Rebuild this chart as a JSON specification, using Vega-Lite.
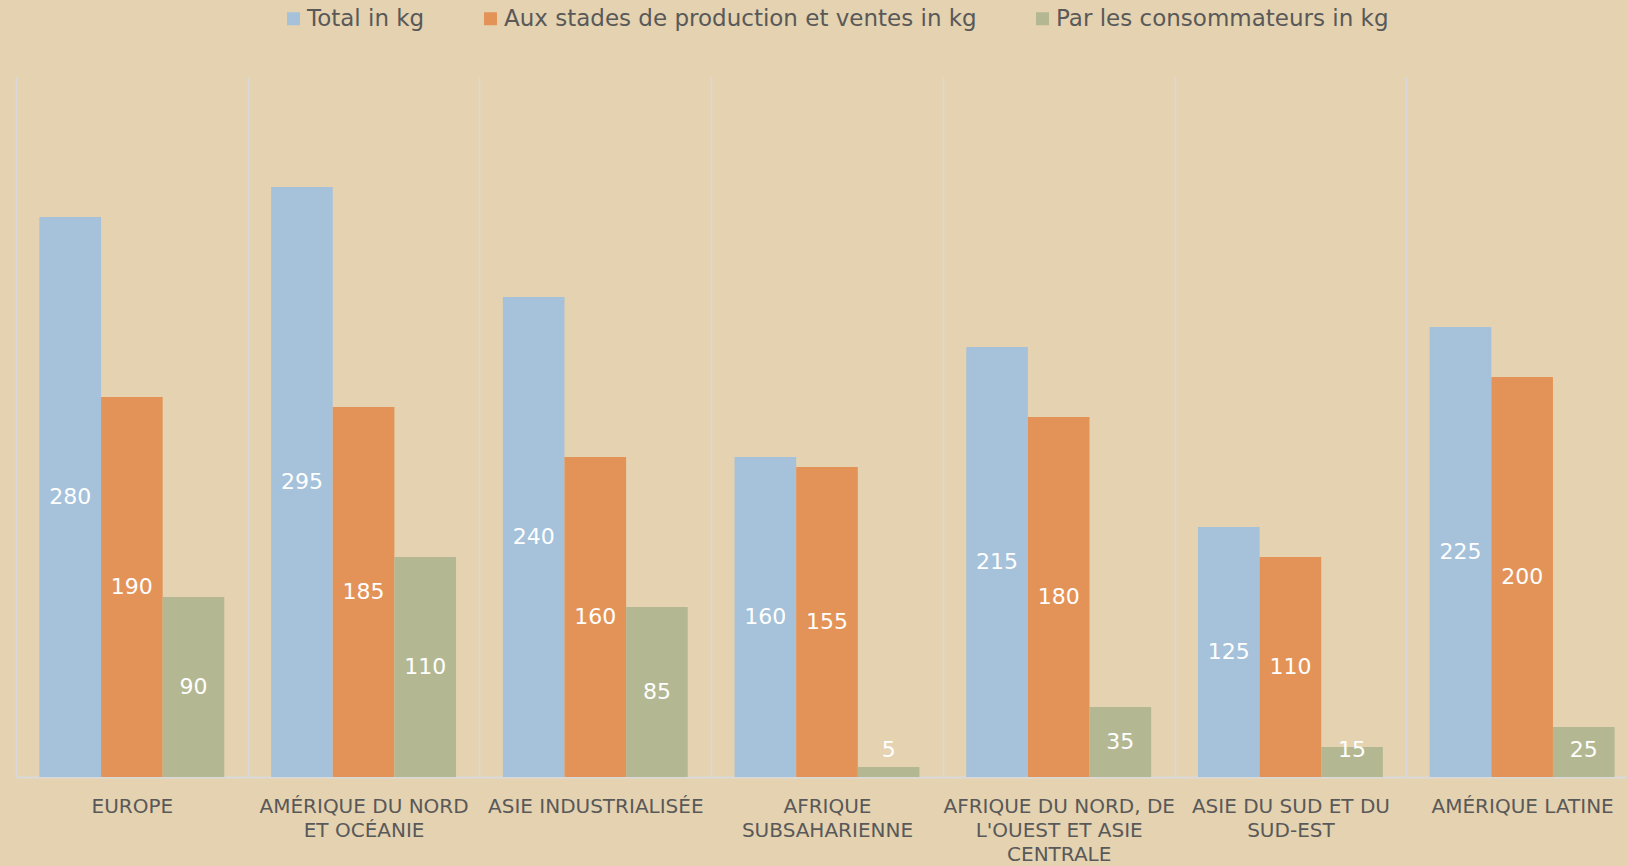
{
  "$schema": "https://vega.github.io/schema/vega-lite/v6.json",
  "width": 1611,
  "height": 700,
  "autosize": {"type": "none"},
  "padding": {"left": 16, "top": 77, "right": 0, "bottom": 89},
  "background": "#E4D2B0",
  "config": {"view": {"stroke": null}, "font": "DejaVu Sans"},
  "data": {
    "values": [
      {"region": "EUROPE", "series": "Total in kg", "value": 280},
      {"region": "EUROPE", "series": "Aux stades de production et ventes in kg", "value": 190},
      {"region": "EUROPE", "series": "Par les consommateurs in kg", "value": 90},
      {"region": "AMÉRIQUE DU NORD ET OCÉANIE", "series": "Total in kg", "value": 295},
      {"region": "AMÉRIQUE DU NORD ET OCÉANIE", "series": "Aux stades de production et ventes in kg", "value": 185},
      {"region": "AMÉRIQUE DU NORD ET OCÉANIE", "series": "Par les consommateurs in kg", "value": 110},
      {"region": "ASIE INDUSTRIALISÉE", "series": "Total in kg", "value": 240},
      {"region": "ASIE INDUSTRIALISÉE", "series": "Aux stades de production et ventes in kg", "value": 160},
      {"region": "ASIE INDUSTRIALISÉE", "series": "Par les consommateurs in kg", "value": 85},
      {"region": "AFRIQUE SUBSAHARIENNE", "series": "Total in kg", "value": 160},
      {"region": "AFRIQUE SUBSAHARIENNE", "series": "Aux stades de production et ventes in kg", "value": 155},
      {"region": "AFRIQUE SUBSAHARIENNE", "series": "Par les consommateurs in kg", "value": 5},
      {"region": "AFRIQUE DU NORD, DE L'OUEST ET ASIE CENTRALE", "series": "Total in kg", "value": 215},
      {"region": "AFRIQUE DU NORD, DE L'OUEST ET ASIE CENTRALE", "series": "Aux stades de production et ventes in kg", "value": 180},
      {"region": "AFRIQUE DU NORD, DE L'OUEST ET ASIE CENTRALE", "series": "Par les consommateurs in kg", "value": 35},
      {"region": "ASIE DU SUD ET DU SUD-EST", "series": "Total in kg", "value": 125},
      {"region": "ASIE DU SUD ET DU SUD-EST", "series": "Aux stades de production et ventes in kg", "value": 110},
      {"region": "ASIE DU SUD ET DU SUD-EST", "series": "Par les consommateurs in kg", "value": 15},
      {"region": "AMÉRIQUE LATINE", "series": "Total in kg", "value": 225},
      {"region": "AMÉRIQUE LATINE", "series": "Aux stades de production et ventes in kg", "value": 200},
      {"region": "AMÉRIQUE LATINE", "series": "Par les consommateurs in kg", "value": 25}
    ]
  },
  "encoding": {
    "x": {
      "field": "region",
      "type": "nominal",
      "sort": null,
      "scale": {"paddingInner": 0, "paddingOuter": 0, "range": [0, 1622]},
      "axis": {
        "title": null,
        "labelAngle": 0,
        "grid": true,
        "tickBand": "extent",
        "gridColor": "#D9D9D9",
        "gridWidth": 1.5,
        "domainColor": "#D9D9D9",
        "domainWidth": 2,
        "ticks": false,
        "labelFont": "DejaVu Sans",
        "labelFontSize": 20,
        "labelColor": "#595959",
        "labelPadding": 19,
        "labelLineHeight": 24,
        "labelLimit": 260,
        "labelBaseline": "top",
        "labelExpr": "datum.value == 'AMÉRIQUE DU NORD ET OCÉANIE' ? ['AMÉRIQUE DU NORD', 'ET OCÉANIE'] : datum.value == 'AFRIQUE SUBSAHARIENNE' ? ['AFRIQUE', 'SUBSAHARIENNE'] : datum.value == \"AFRIQUE DU NORD, DE L'OUEST ET ASIE CENTRALE\" ? ['AFRIQUE DU NORD, DE', \"L'OUEST ET ASIE\", 'CENTRALE'] : datum.value == 'ASIE DU SUD ET DU SUD-EST' ? ['ASIE DU SUD ET DU', 'SUD-EST'] : datum.value"
      }
    },
    "xOffset": {
      "field": "series",
      "type": "nominal",
      "sort": ["Total in kg", "Aux stades de production et ventes in kg", "Par les consommateurs in kg"],
      "scale": {"paddingOuter": 0.38, "paddingInner": 0}
    }
  },
  "layer": [
    {
      "mark": {"type": "bar"},
      "encoding": {
        "y": {"field": "value", "type": "quantitative", "scale": {"domain": [0, 350]}, "axis": null},
        "color": {
          "field": "series",
          "type": "nominal",
          "sort": ["Total in kg", "Aux stades de production et ventes in kg", "Par les consommateurs in kg"],
          "scale": {"range": ["#A5C2DA", "#E49358", "#B4B892"]},
          "legend": {
            "title": null,
            "orient": "none",
            "legendX": 266,
            "legendY": -70,
            "direction": "horizontal",
            "columns": 3,
            "symbolType": "square",
            "symbolSize": 169,
            "symbolStrokeWidth": 0,
            "labelFont": "DejaVu Sans",
            "labelFontSize": 23,
            "labelColor": "#595959",
            "labelOffset": 2,
            "columnPadding": 54,
            "labelLimit": 600
          }
        }
      }
    },
    {
      "transform": [{"filter": "datum.value >= 27"}],
      "mark": {"type": "text", "color": "white", "fontSize": 22, "baseline": "middle"},
      "encoding": {
        "y": {"field": "value", "type": "quantitative", "scale": {"domain": [0, 700]}, "axis": null},
        "text": {"field": "value", "type": "quantitative"}
      }
    },
    {
      "transform": [{"filter": "datum.value < 27"}],
      "mark": {"type": "text", "color": "white", "fontSize": 22, "baseline": "middle"},
      "encoding": {
        "y": {"datum": 27, "type": "quantitative", "scale": {"domain": [0, 700]}, "axis": null},
        "text": {"field": "value", "type": "quantitative"}
      }
    }
  ],
  "resolve": {"scale": {"y": "independent"}}
}
